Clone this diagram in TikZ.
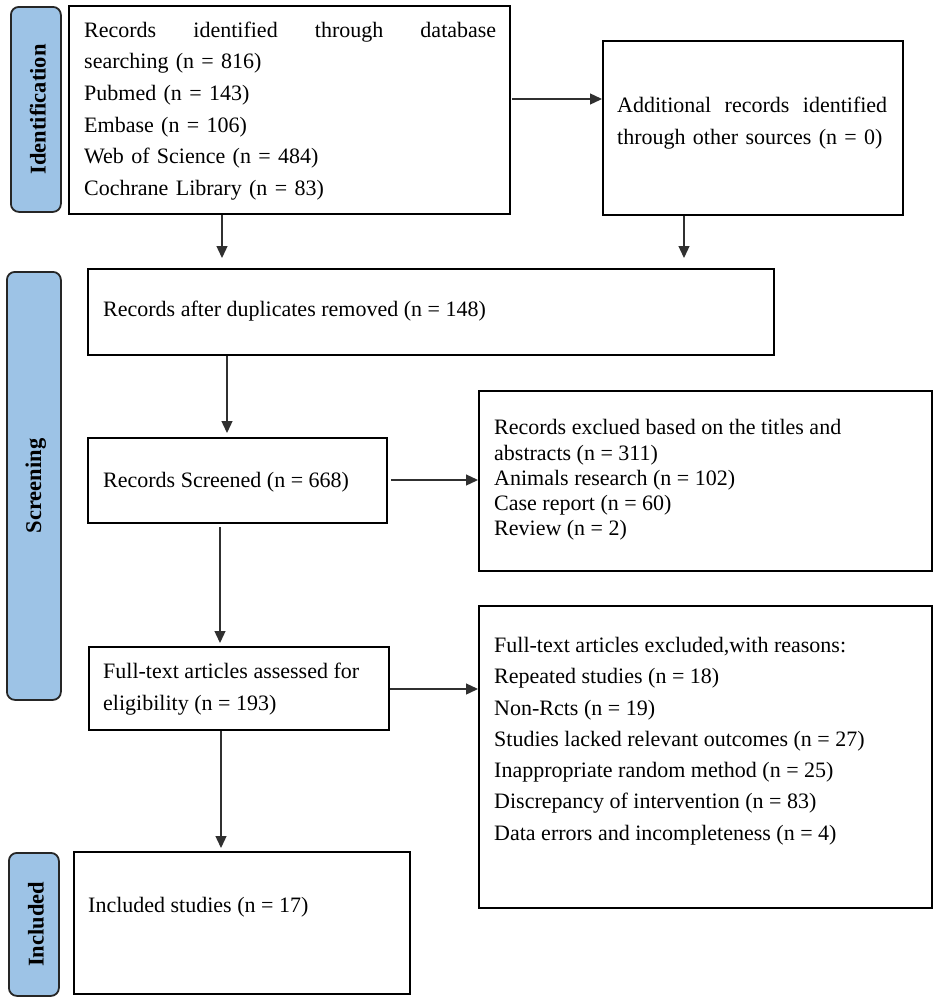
\documentclass[tikz,border=0pt]{standalone}
\usepackage{fontspec}
\setmainfont{Liberation Serif}
\usetikzlibrary{arrows.meta}
\definecolor{phase}{HTML}{9DC3E6}
\definecolor{arrowgray}{HTML}{303030}
\begin{document}
\begin{tikzpicture}[x=1pt,y=-1pt,
  box/.style={draw=black, line width=1.8pt, rectangle, inner sep=0pt, anchor=north west},
  phasebox/.style={draw=black!85, fill=phase, line width=1.8pt, rounded corners=8pt, rectangle, inner sep=0pt, anchor=north west},
  phaselabel/.style={rotate=90, inner sep=0pt, font=\fontsize{22.5}{22.5}\selectfont\bfseries},
  txt/.style={anchor=west, inner sep=0pt, align=left, font=\fontsize{22}{31.6}\selectfont},
  arr/.style={draw=arrowgray, line width=1.3pt, -{Triangle[length=12pt,width=11pt]}}
]
\useasboundingbox (0,0) rectangle (935,1002);

% phase labels
\node[phasebox, minimum width=50pt, minimum height=205pt] (pid) at (10,6) {};
\node[phaselabel] (lid) at ([xshift=2pt]pid.center) {Identification};
\node[phasebox, minimum width=54pt, minimum height=428pt] (psc) at (6,271) {};
\node[phaselabel] (lsc) at ([xshift=2pt]psc.center) {Screening};
\node[phasebox, minimum width=50pt, minimum height=143pt] (pin) at (8,852) {};
\node[phaselabel] (lin) at ([xshift=2pt]pin.center) {Included};

% boxes
\node[box, minimum width=441pt, minimum height=208pt] (b1) at (68,5) {};
\node[box, minimum width=300pt, minimum height=174pt] (b2) at (602,40) {};
\node[box, minimum width=686pt, minimum height=86pt] (b3) at (87,268) {};
\node[box, minimum width=299pt, minimum height=85pt] (b4) at (87,437) {};
\node[box, minimum width=300pt, minimum height=83pt] (b5) at (88,646) {};
\node[box, minimum width=453pt, minimum height=180pt] (b6) at (478,390) {};
\node[box, minimum width=453pt, minimum height=302pt] (b7) at (478,605) {};
\node[box, minimum width=336pt, minimum height=142pt] (b8) at (73,851) {};

% texts
\node[txt, text width=412pt] (t1) at (84,111) {\hbox to 412pt{Records\hfill identified\hfill through\hfill database}\\
searching (n = 816)\\
Pubmed (n = 143)\\
Embase (n = 106)\\
Web of Science (n = 484)\\
Cochrane Library (n = 83)};
\node[txt, text width=270pt] (t2) at (617,123) {\hbox to 270pt{Additional\hfill records\hfill identified}\\
through other sources (n = 0)};
\node[txt] (t3) at (103,311) {Records after duplicates removed (n = 148)};
\node[txt] (t4) at (103,482) {Records Screened (n = 668)};
\node[txt] (t5) at (103,689) {Full-text articles assessed for\\ eligibility (n = 193)};
\node[txt, font=\fontsize{22}{25.2}\selectfont] (t6) at (494,480) {Records exclued based on the titles and\\
abstracts (n = 311)\\
Animals research (n = 102)\\
Case report (n = 60)\\
Review (n = 2)};
\node[txt, font=\fontsize{22}{31.3}\selectfont] (t7) at (494,741) {Full-text articles excluded,with reasons:\\
Repeated studies (n = 18)\\
Non-Rcts (n = 19)\\
Studies lacked relevant outcomes (n = 27)\\
Inappropriate random method (n = 25)\\
Discrepancy of intervention (n = 83)\\
Data errors and incompleteness (n = 4)};
\node[txt] (t8) at (88,907) {Included studies (n = 17)};

% connectors
\draw[arr, shorten <=1pt] (b1.east |- 0,99) -- (b2.west |- 0,99);
\draw[arr, shorten >=10pt] (b1.south -| 222,0) -- (b3.north -| 222,0);
\draw[arr, shorten >=10pt] (b2.south -| 684,0) -- (b3.north -| 684,0);
\draw[arr, shorten >=4pt] (b3.south -| 227,0) -- (b4.north -| 227,0);
\draw[arr, shorten <=3pt, shorten >=3pt] (b4.south -| 220,0) -- (b5.north -| 220,0);
\draw[arr, shorten <=3pt] (b4.east |- 0,480) -- (b6.west |- 0,480);
\draw[arr] (b5.east |- 0,689) -- (b7.west |- 0,689);
\draw[arr, shorten >=3pt] (b5.south -| 221,0) -- (b8.north -| 221,0);
\end{tikzpicture}
\end{document}
